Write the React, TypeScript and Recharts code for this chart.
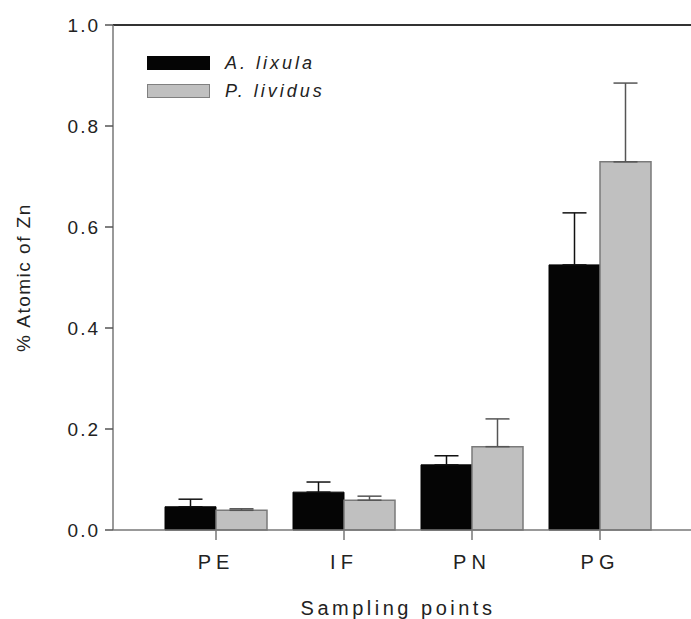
import { Bar, BarChart, ErrorBar, ReferenceLine, XAxis, YAxis } from "recharts";

const sites = ["PE", "IF", "PN", "PG"];
const lixula = [0.046, 0.075, 0.129, 0.525];
const lixulaSd = [0.015, 0.02, 0.018, 0.103];
const lividus = [0.039, 0.059, 0.165, 0.729];
const lividusSd = [0.003, 0.008, 0.055, 0.156];
const yTicks = [0, 0.2, 0.4, 0.6, 0.8, 1.0];

// one-sided (upper) error bars: [below, above]
const data = sites.map((site, i) => ({
  site,
  lixula: lixula[i],
  lixulaErr: [0, lixulaSd[i]],
  lividus: lividus[i],
  lividusErr: [0, lividusSd[i]],
}));

const font = "'Liberation Sans', Arial, sans-serif";
const ink = "#222";

const legendItems = [
  { label: "A. lixula", fill: "#050505", stroke: "#050505" },
  { label: "P. lividus", fill: "#c0c0c0", stroke: "#808080" },
];

export default function App() {
  return (
    <div
      style={{
        position: "absolute",
        left: 0,
        top: 0,
        width: 691,
        height: 619,
        background: "#fff",
        fontFamily: font,
      }}
    >
      <BarChart
        width={691}
        height={619}
        data={data}
        margin={{ top: 25, right: 0, bottom: 0, left: 0 }}
        barSize={51}
        barGap={0}
      >
        <ReferenceLine y={1} stroke="#333" strokeWidth={2} ifOverflow="extendDomain" />
        <XAxis
          dataKey="site"
          height={89}
          padding={{ left: 39, right: 27 }}
          axisLine={{ stroke: "#777", strokeWidth: 1.5 }}
          tickLine={{ stroke: "#777", strokeWidth: 1.5 }}
          tickSize={10}
          tickMargin={15}
          tick={{ fill: ink, fontSize: 20, fontFamily: font, letterSpacing: 5 }}
          label={{
            value: "Sampling points",
            position: "insideBottom",
            offset: 4,
            dx: -4,
            fill: ink,
            fontSize: 20,
            fontFamily: font,
            letterSpacing: 3.5,
          }}
        />
        <YAxis
          width={113}
          domain={[0, 1]}
          ticks={yTicks}
          axisLine={{ stroke: "#777", strokeWidth: 1.5 }}
          tickLine={{ stroke: "#555", strokeWidth: 1.5 }}
          tickSize={8}
          tickMargin={5}
          tickFormatter={(v: number) => v.toFixed(1)}
          tick={{ fill: ink, fontSize: 19, fontFamily: font, letterSpacing: 2 }}
          label={{
            value: "% Atomic of Zn",
            angle: -90,
            position: "center",
            dx: -33,
            fill: ink,
            fontSize: 19,
            fontFamily: font,
            letterSpacing: 1.5,
          }}
        />
        <Bar dataKey="lixula" fill="#050505" stroke="#050505" isAnimationActive={false}>
          <ErrorBar dataKey="lixulaErr" width={12} stroke="#111" strokeWidth={1.5} direction="y" />
        </Bar>
        <Bar
          dataKey="lividus"
          fill="#c0c0c0"
          stroke="#7a7a7a"
          strokeWidth={1.5}
          isAnimationActive={false}
        >
          <ErrorBar dataKey="lividusErr" width={12} stroke="#555" strokeWidth={1.5} direction="y" />
        </Bar>
      </BarChart>

      <div style={{ position: "absolute", left: 147, top: 49 }}>
        {legendItems.map((item) => (
          <div
            key={item.label}
            style={{ display: "flex", alignItems: "center", height: 28 }}
          >
            <span
              style={{
                width: 61,
                height: 12,
                background: item.fill,
                border: `1px solid ${item.stroke}`,
                marginRight: 15,
              }}
            />
            <span
              style={{
                fontStyle: "italic",
                fontSize: 18,
                letterSpacing: 3,
                color: ink,
              }}
            >
              {item.label}
            </span>
          </div>
        ))}
      </div>
    </div>
  );
}
